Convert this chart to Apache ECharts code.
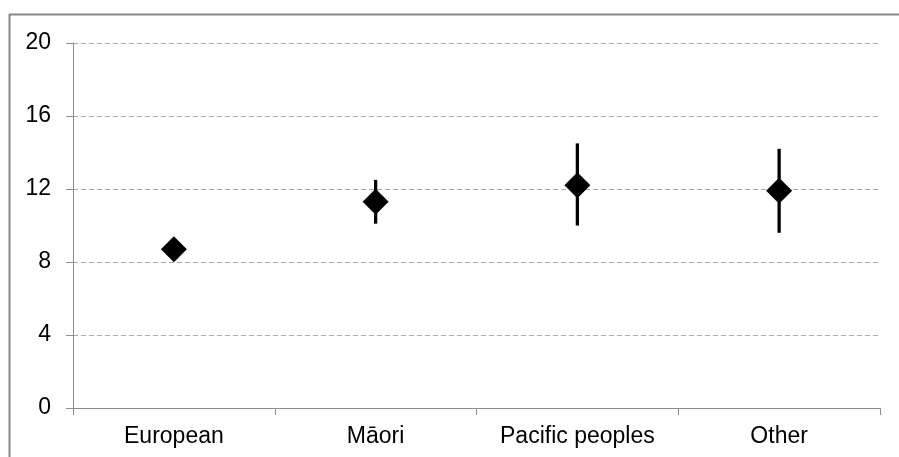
<!DOCTYPE html>
<html>
<head>
<meta charset="utf-8">
<script src="https://cdn.jsdelivr.net/npm/echarts@6/dist/echarts.min.js"></script>
<style>html,body{margin:0;padding:0;background:#fff}#c{width:899px;height:457px}</style>
</head>
<body>
<div id="c"></div>
<script>
var categories = ['European', 'Māori', 'Pacific peoples', 'Other'];
var values = [8.7, 11.3, 12.2, 11.9];
var lows = [8.4, 10.1, 10.0, 9.6];
var highs = [9.0, 12.5, 14.5, 14.2];
var yTicks = [0, 4, 8, 12, 16, 20];

var chart = echarts.init(document.getElementById('c'));
var font = 'Liberation Sans, Arial, sans-serif';
var errData = categories.map(function (c, i) { return [i, lows[i], highs[i]]; });

chart.setOption({
  animation: false,
  backgroundColor: '#fff',
  graphic: [{
    type: 'rect', silent: true, z: 100,
    shape: { x: 9.5, y: 14.5, width: 900, height: 500 },
    style: { fill: 'none', stroke: '#878787', lineWidth: 2 }
  }],
  grid: { left: 73, right: 19, top: 43, bottom: 49 },
  xAxis: {
    type: 'category',
    data: categories,
    boundaryGap: true,
    axisLine: { lineStyle: { color: '#8c8c8c', width: 1 } },
    axisTick: { show: true, length: 7, lineStyle: { color: '#8c8c8c' } },
    axisLabel: { color: '#000', fontFamily: font, fontSize: 23, margin: 17 },
    splitLine: { show: false }
  },
  yAxis: {
    type: 'value',
    min: yTicks[0], max: yTicks[yTicks.length - 1], interval: 4,
    axisLine: { show: true, lineStyle: { color: '#8c8c8c', width: 1 } },
    axisTick: { show: true, length: 7, lineStyle: { color: '#8c8c8c' } },
    axisLabel: { color: '#000', fontFamily: font, fontSize: 23, margin: 22 },
    splitLine: { show: true, lineStyle: { color: '#aaaaaa', type: [5, 3], width: 1 } }
  },
  series: [{
    type: 'custom',
    data: errData,
    z: 2,
    renderItem: function (params, api) {
      var x = api.value(0);
      var lo = api.coord([x, api.value(1)]);
      var hi = api.coord([x, api.value(2)]);
      return {
        type: 'line',
        shape: { x1: lo[0], y1: lo[1], x2: hi[0], y2: hi[1] },
        style: { stroke: '#000', lineWidth: 3.3 }
      };
    }
  }, {
    type: 'scatter',
    data: values,
    symbol: 'diamond',
    symbolSize: [26, 26],
    z: 3,
    itemStyle: { color: '#000', opacity: 1 }
  }]
});
</script>
</body>
</html>
